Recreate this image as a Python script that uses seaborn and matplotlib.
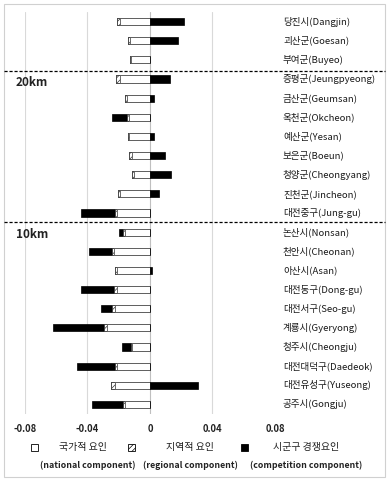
import numpy as np
import pandas as pd
import matplotlib
matplotlib.use("Agg")
import matplotlib.pyplot as plt
from matplotlib.patches import Rectangle
import seaborn as sns

# regions, top to bottom
regions = [
    "당진시(Dangjin)", "괴산군(Goesan)", "부여군(Buyeo)",
    "증평군(Jeungpyeong)", "금산군(Geumsan)", "옥천군(Okcheon)", "예산군(Yesan)",
    "보은군(Boeun)", "청양군(Cheongyang)", "진천군(Jincheon)", "대전중구(Jung-gu)",
    "논산시(Nonsan)", "천안시(Cheonan)", "아산시(Asan)", "대전동구(Dong-gu)",
    "대전서구(Seo-gu)", "계룡시(Gyeryong)", "청주시(Cheongju)", "대전대덕구(Daedeok)",
    "대전유성구(Yuseong)", "공주시(Gongju)",
]
national = [-0.0192, -0.0128, -0.0122, -0.0192, -0.0149, -0.0132, -0.0132,
            -0.0113, -0.0102, -0.0192, -0.0209, -0.0160, -0.0228, -0.0213,
            -0.0213, -0.0224, -0.0273, -0.0113, -0.0209, -0.0224, -0.0160]
regional = [-0.0017, -0.0010, -0.0009, -0.0026, -0.0011, -0.0017, -0.0009,
            -0.0021, -0.0011, -0.0013, -0.0015, -0.0011, -0.0017, -0.0011,
            -0.0019, -0.0017, -0.0019, -0.0009, -0.0015, -0.0026, -0.0015]
competition = [0.0220, 0.0181, 0.0, 0.0128, 0.0026, -0.0096, 0.0026,
               0.0094, 0.0134, 0.0058, -0.0218, -0.0026, -0.0143, 0.0013,
               -0.0209, -0.0073, -0.0331, -0.0060, -0.0245, 0.0309, -0.0194]
x_ticks = [-0.08, -0.04, 0, 0.04, 0.08]
x_tick_labels = ["-0.08", "-0.04", "0", "0.04", "0.08"]
legend_kr = ["국가적 요인", "지역적 요인", "시군구 경쟁요인"]
legend_en = ["(national component)", "(regional component)", "(competition component)"]

sns.set_style("white")
plt.rcParams["font.family"] = ["Noto Sans CJK KR", "DejaVu Sans"]
plt.rcParams["hatch.linewidth"] = 0.5

W, H = 388, 479
fig = plt.figure(figsize=(W / 100, H / 100), dpi=100)

# axes placement in pixels
ax_l, ax_r, ax_t, ax_b = 25, 375, 12, 414
ax = fig.add_axes([ax_l / W, 1 - ax_b / H, (ax_r - ax_l) / W, (ax_b - ax_t) / H])

df = pd.DataFrame({"region": regions, "nat": national, "reg": regional, "comp": competition})
df["neg_total"] = df["nat"] + df["reg"] + df["comp"].clip(upper=0)
df["nat_reg"] = df["nat"] + df["reg"]
df["pos_comp"] = df["comp"].clip(lower=0)

bw = 0.38
common = dict(y="region", order=regions, orient="h", errorbar=None, width=bw, ax=ax)
# layered: deepest negative first, then overlay the shorter stacks
sns.barplot(data=df, x="neg_total", color="black", edgecolor="black", linewidth=0.5,
            saturation=1, **common)
sns.barplot(data=df, x="nat_reg", color="white", edgecolor="#333333", linewidth=0.5,
            hatch="//////", saturation=1, **common)
sns.barplot(data=df, x="nat", color="white", edgecolor="#555555", linewidth=0.6,
            saturation=1, **common)
sns.barplot(data=df, x="pos_comp", color="black", edgecolor="black", linewidth=0.5,
            saturation=1, **common)

ax.set_xlim(-0.08, -0.08 + (ax_r - ax_l) / 1562.5)
ax.set_ylim(len(regions) - 0.5, -0.5)
ax.set_xticks(x_ticks)
ax.set_xticklabels(x_tick_labels, fontsize=6.8, fontweight="bold", color="#222222")
ax.tick_params(axis="x", length=0, pad=7)
ax.set_yticks([])
ax.set_xlabel("")
ax.set_ylabel("")
for s in ax.spines.values():
    s.set_visible(False)

for gx in [-0.08, -0.04, 0.04]:
    ax.axvline(gx, color="#d9d9d9", lw=0.8, zorder=0)
ax.axvline(0, color="#bfbfbf", lw=0.8, zorder=0.5)

# region labels at the right
for i, name in enumerate(regions):
    ax.text(0.0851, i, name, ha="left", va="center", fontsize=6.9, color="#1a1a1a",
            clip_on=False)

# dashed separators and distance labels
for y_px, lbl, ly in [(71, "20km", 83), (222, "10km", 234)]:
    fig.add_artist(plt.Line2D([4 / W, 385 / W], [1 - y_px / H, 1 - y_px / H],
                              color="black", lw=0.9, ls=(0, (2.5, 1.5)),
                              transform=fig.transFigure))
    fig.text(16 / W, 1 - ly / H, lbl, fontsize=8.5, fontweight="bold",
             ha="left", va="center", color="#222222")

# legend
row1, row2 = 447, 465
marks = [(34, "white", ""), (131, "white", "//////"), (244, "black", "")]
txt1_x = [83, 190, 306]
txt2_x = [87.5, 190, 306]
for (mx, fc, hatch), t1, t2, x1, x2 in zip(marks, legend_kr, legend_en, txt1_x, txt2_x):
    s = 7
    fig.add_artist(Rectangle(((mx - s / 2) / W, 1 - (row1 + s / 2) / H), s / W, s / H,
                             facecolor=fc, edgecolor="black", lw=0.6, hatch=hatch,
                             transform=fig.transFigure))
    fig.text(x1 / W, 1 - row1 / H, t1, fontsize=7.2, ha="center", va="center",
             color="#222222")
    fig.text(x2 / W, 1 - row2 / H, t2, fontsize=6.3, fontweight="bold", ha="center",
             va="center", color="#222222")

# outer frame
fig.add_artist(Rectangle((4 / W, 1 - 477 / H), 381 / W, 473 / H, facecolor="none",
                         edgecolor="#d0d0d0", lw=0.8, transform=fig.transFigure))

fig.savefig("out.png", dpi=100)
